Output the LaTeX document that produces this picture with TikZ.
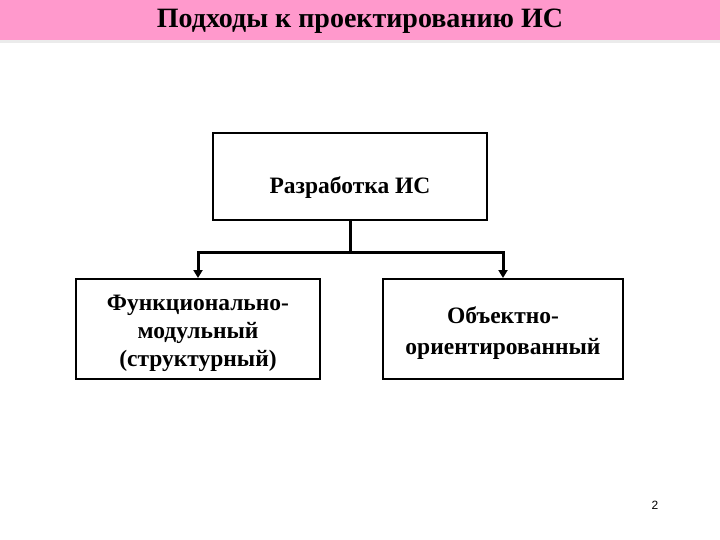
\documentclass[tikz,border=0pt]{standalone}
\usepackage{fontspec}
\setmainfont{Liberation Serif}
\setsansfont{Liberation Sans}
\usepackage{xcolor}
\usetikzlibrary{arrows.meta,positioning,calc}
\definecolor{isband}{HTML}{FF99CC}
\definecolor{isshade}{HTML}{EBEBEB}
\definecolor{isink}{HTML}{000000}

\tikzset{
  isbox/.style={draw=isink, line width=2pt, align=center, text=isink,
    font=\bfseries\fontsize{23.5}{28}\selectfont},
  islink/.style={draw=isink, line width=3pt},
  isarrow/.style={islink, -{Triangle[length=8pt,width=9pt]}}
}

\begin{document}
\begin{tikzpicture}[x=1pt,y=-1pt]
  \useasboundingbox (0,0) rectangle (720,540);
  \fill[white] (0,0) rectangle (720,540);
  \fill[isband] (0,0) rectangle (720,40.5);
  \fill[isshade] (0,40.5) rectangle (720,43);

  \node[font=\bfseries\fontsize{28}{32}\selectfont, text=isink] (title) at (360,21) {Подходы к проектированию ИС};

  \node[isbox, minimum width=274pt, minimum height=87pt] (dev) at (350,176.5) {\raisebox{-12pt}[16pt][5pt]{Разработка ИС}};
  \node[isbox, minimum width=244pt, minimum height=100pt] (func) at (198,329) {\rule{0pt}{25pt}Функционально-\\модульный\\(структурный)};
  \node[isbox, minimum width=240pt, minimum height=100pt, font=\bfseries\fontsize{23.5}{30.5}\selectfont] (obj) at (503,329) {\rule{0pt}{25pt}Объектно-\\ориентированный};

  \draw[islink] (dev.south) -- ++(0,31) coordinate (split);
  \draw[isarrow] (split) -| (func.north);
  \draw[isarrow] (split) -| (obj.north);

  \node[font=\sffamily\fontsize{12}{14}\selectfont, text=isink] (page) at (655,505) {2};
\end{tikzpicture}
\end{document}
